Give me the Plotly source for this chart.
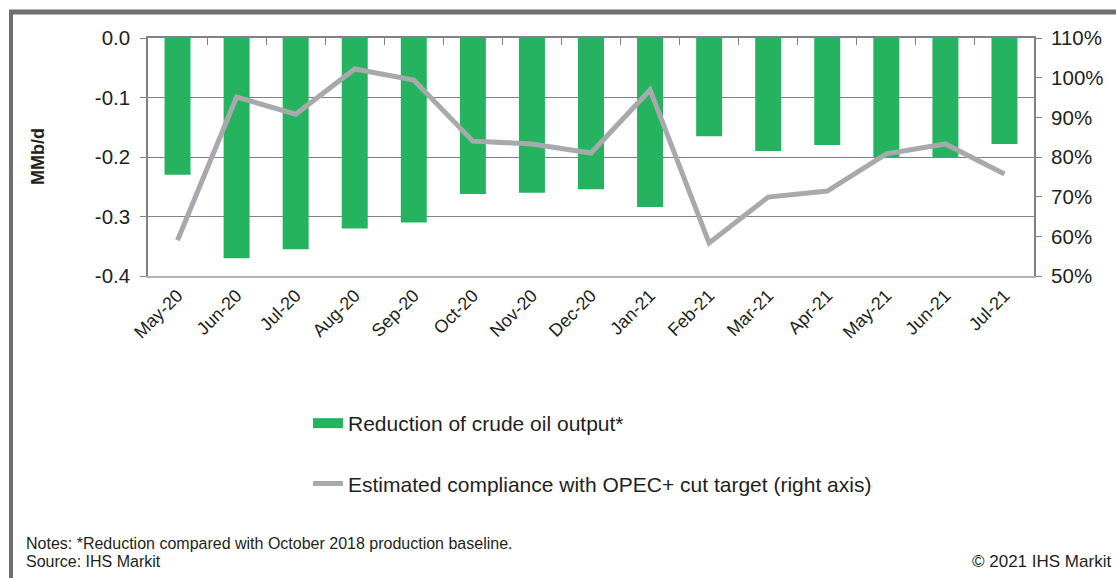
import plotly.graph_objects as go

months = ["May-20", "Jun-20", "Jul-20", "Aug-20", "Sep-20", "Oct-20", "Nov-20", "Dec-20",
          "Jan-21", "Feb-21", "Mar-21", "Apr-21", "May-21", "Jun-21", "Jul-21"]
reduction = [-0.23, -0.37, -0.355, -0.32, -0.31, -0.262, -0.26, -0.254,
             -0.284, -0.165, -0.19, -0.18, -0.2, -0.2, -0.178]
compliance = [0.59, 0.951, 0.908, 1.022, 0.994, 0.84, 0.833, 0.81,
              0.969, 0.583, 0.699, 0.714, 0.808, 0.833, 0.757]
left_ticks = [0.0, -0.1, -0.2, -0.3, -0.4]
left_labels = ["0.0", "-0.1", "-0.2", "-0.3", "-0.4"]
right_ticks = [0.5, 0.6, 0.7, 0.8, 0.9, 1.0, 1.1]
right_labels = ["50%", "60%", "70%", "80%", "90%", "100%", "110%"]

FONT = "Liberation Sans, Arial, sans-serif"
TXT = "#231f20"
GREEN = "#25b35f"
GREY = "#a7a9ac"

L, R, T, B = 148, 82, 38, 302
W, H = 1116, 578
pw, ph = W - L - R, H - T - B


def px(x):
    return (x - L) / pw


def py(y):
    return (H - B - y) / ph


fig = go.Figure()
fig.add_trace(go.Bar(x=months, y=reduction, name="Reduction of crude oil output*",
                     marker=dict(color=GREEN, line=dict(width=0)), showlegend=False,
                     xaxis="x", yaxis="y"))
# legend entry drawn as a wide bar swatch
fig.add_trace(go.Scatter(x=[None], y=[None], mode="lines", name="Reduction of crude oil output*",
                         line=dict(color=GREEN, width=11), legendgroup="a",
                         xaxis="x", yaxis="y", hoverinfo="skip"))
fig.add_trace(go.Scatter(x=months, y=compliance, mode="lines",
                         name="Estimated compliance with OPEC+ cut target (right axis)",
                         line=dict(color=GREY, width=5),
                         legendgroup="b", xaxis="x2", yaxis="y2"))

fig.update_layout(
    width=W, height=H,
    margin=dict(l=L, r=R, t=T, b=B, autoexpand=False),
    paper_bgcolor="white", plot_bgcolor="white",
    font=dict(family=FONT, color=TXT, size=18),
    bargap=0.56,
    showlegend=True,
    legend=dict(x=px(308), xanchor="left", y=py(403), yanchor="top",
                orientation="v", tracegroupgap=30, font=dict(size=21, color=TXT),
                bgcolor="rgba(0,0,0,0)", itemwidth=30),
    xaxis=dict(type="category", range=[-0.5, 14.5], tickangle=-45,
               ticks="", showline=True, linecolor="#b5b5b5", linewidth=2,
               showgrid=False, tickfont=dict(size=18, color=TXT),
               anchor="y", position=0),
    xaxis2=dict(type="category", range=[-0.5, 14.5], overlaying="x", side="top",
                showticklabels=False, ticks="inside", tickson="boundaries",
                ticklen=7, tickcolor="#808285", showline=True, linecolor="#808285",
                linewidth=1.5, showgrid=False, anchor="y2"),
    yaxis=dict(range=[-0.4, 0.0], tickvals=left_ticks, ticktext=left_labels,
               ticks="outside", ticklen=6, tickcolor="#808285", ticklabelstandoff=6,
               showline=True, linecolor="#808285", linewidth=1.5,
               showgrid=True, gridcolor="#808285", gridwidth=1, zeroline=False,
               tickfont=dict(size=20.5, color=TXT)),
    yaxis2=dict(range=[0.5, 1.1], tickvals=right_ticks, ticktext=right_labels,
                overlaying="y", side="right", ticks="outside", ticklen=6,
                ticklabelstandoff=5,
                tickcolor="#808285", showline=True, linecolor="#808285", linewidth=2,
                showgrid=False, zeroline=False, tickfont=dict(size=20.5, color=TXT)),
)

# Frame lines
fig.add_shape(type="line", xref="paper", yref="paper", x0=px(9), x1=px(1116),
              y0=py(12), y1=py(12), line=dict(color="#6d6e71", width=5))
fig.add_shape(type="line", xref="paper", yref="paper", x0=px(11), x1=px(11),
              y0=py(10), y1=py(578), line=dict(color="#6d6e71", width=4))

fig.add_annotation(text="<b>MMb/d</b>", xref="paper", yref="paper", x=px(38), y=0.5,
                   textangle=-90, showarrow=False, font=dict(size=18, color=TXT),
                   xanchor="center", yanchor="middle")
fig.add_annotation(text="Notes: *Reduction compared with October 2018 production baseline.",
                   xref="paper", yref="paper", x=px(24), y=py(543), xanchor="left",
                   yanchor="middle", showarrow=False, font=dict(size=16, color=TXT))
fig.add_annotation(text="Source: IHS Markit",
                   xref="paper", yref="paper", x=px(24), y=py(561), xanchor="left",
                   yanchor="middle", showarrow=False, font=dict(size=16, color=TXT))
fig.add_annotation(text="© 2021 IHS Markit",
                   xref="paper", yref="paper", x=px(1113), y=py(561), xanchor="right",
                   yanchor="middle", showarrow=False, font=dict(size=17, color=TXT))

fig.write_html("out.html", config={"displayModeBar": False},
               post_script="document.body.style.margin='0';document.body.style.padding='0';")
